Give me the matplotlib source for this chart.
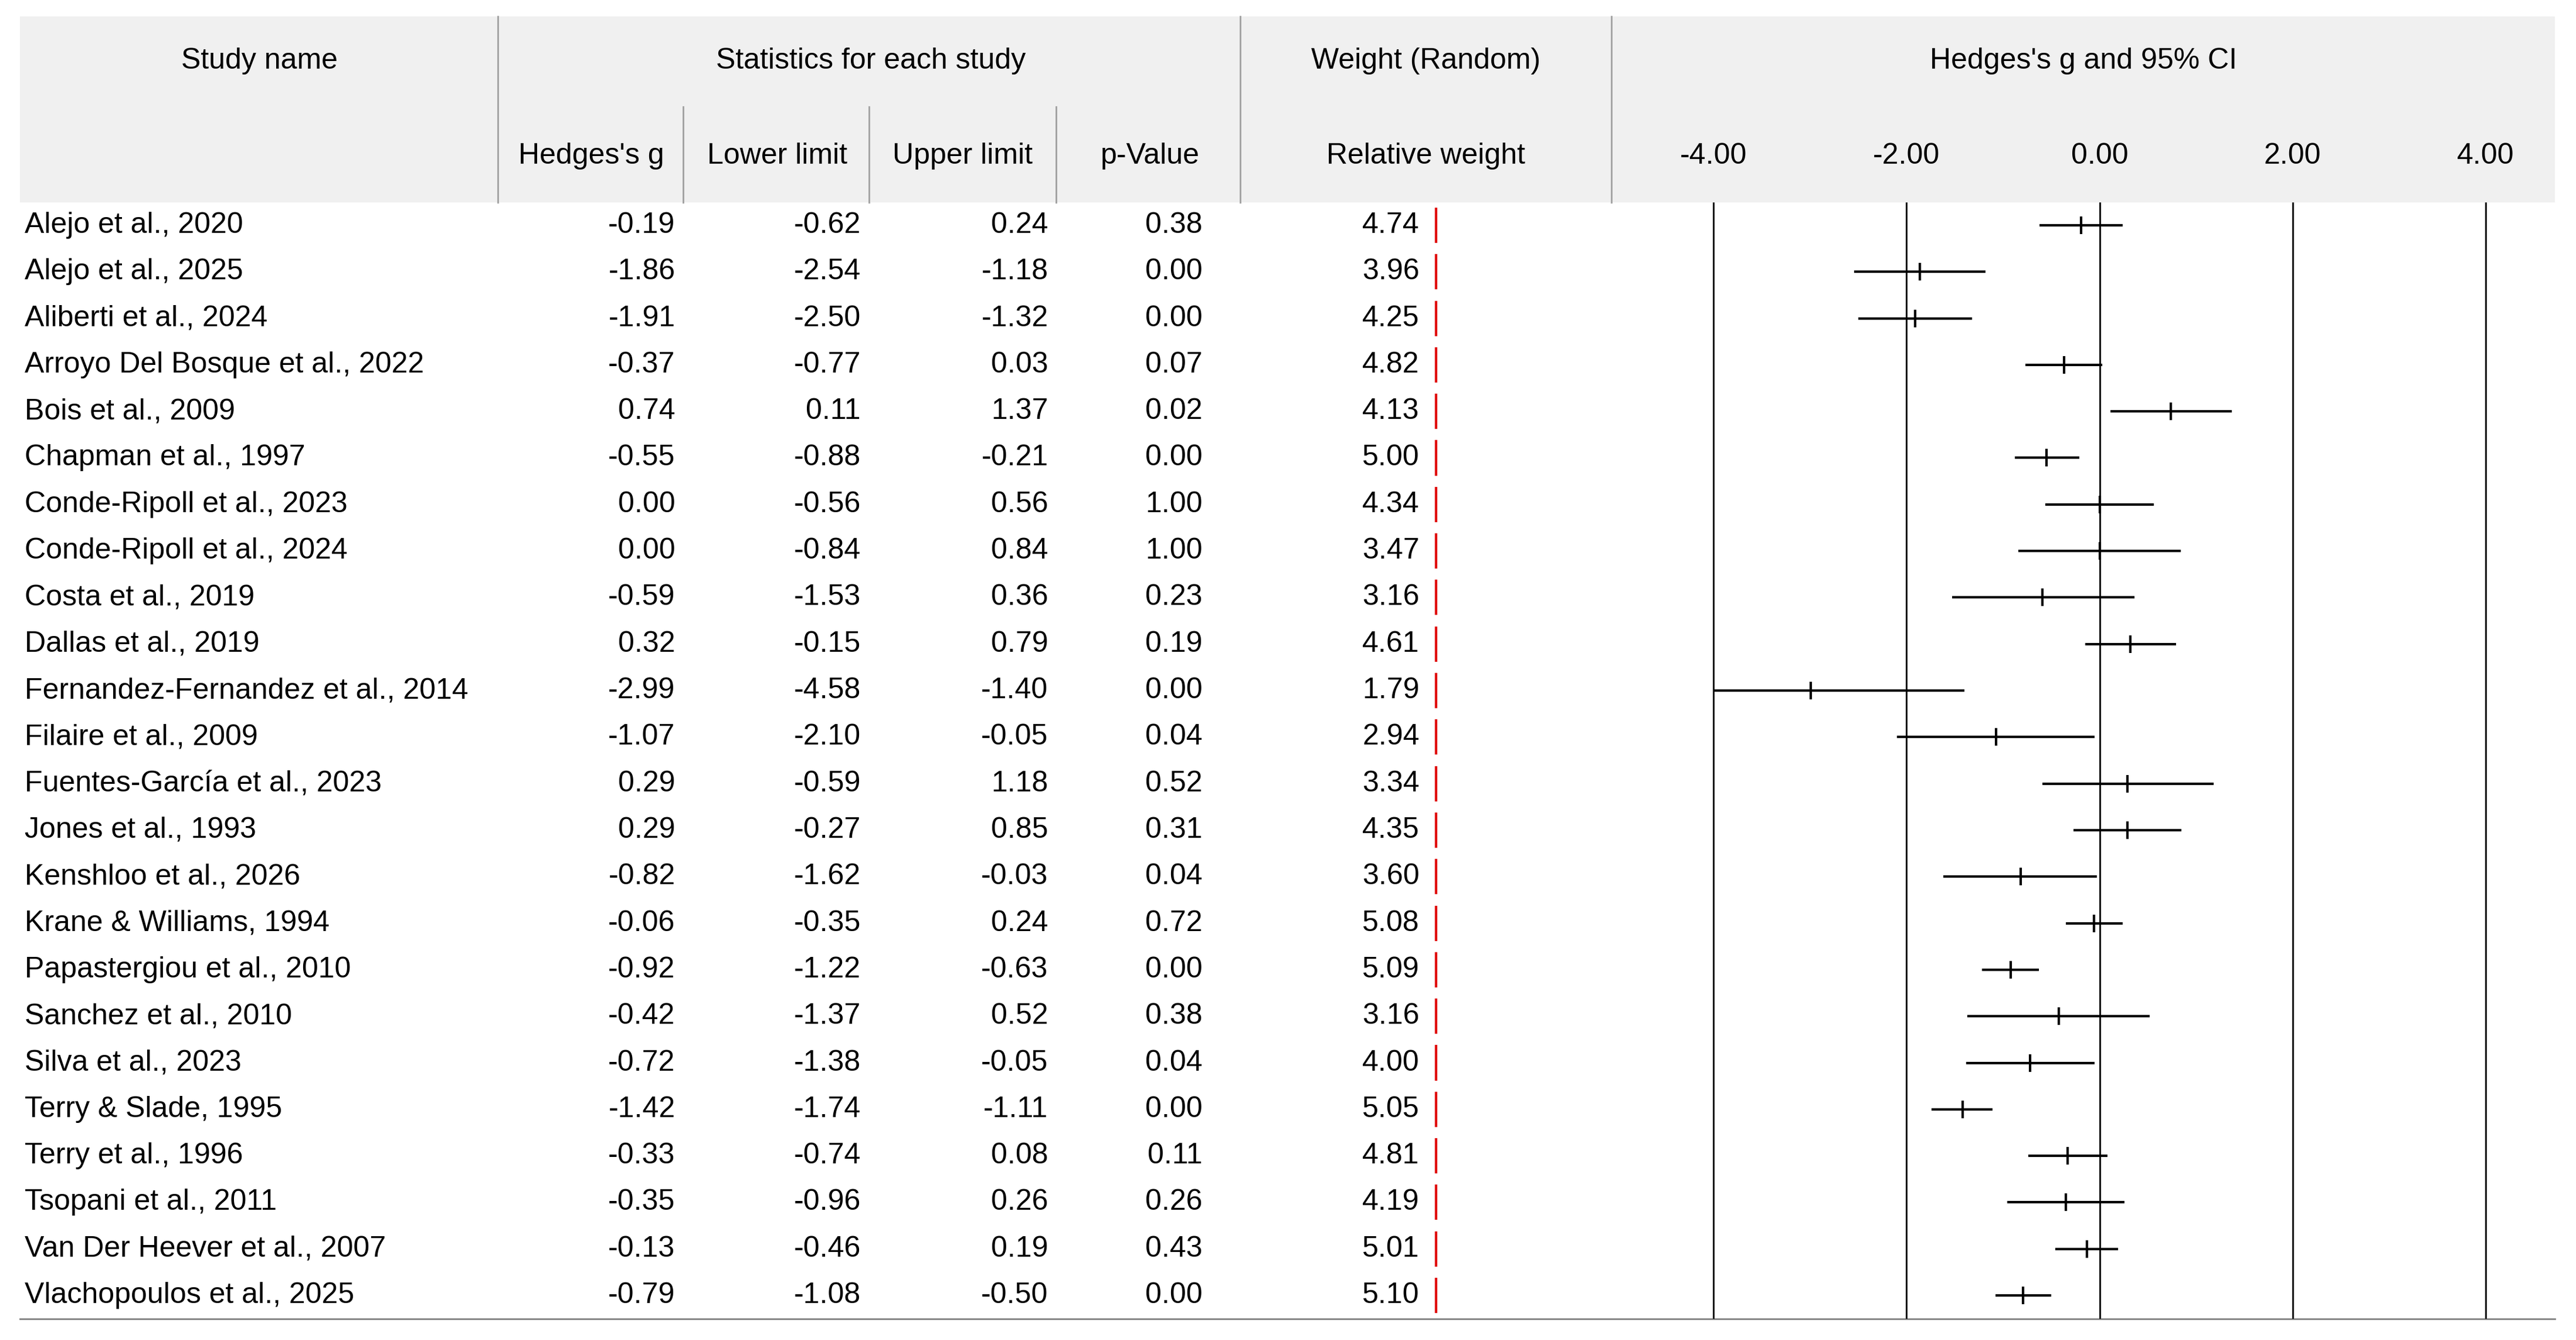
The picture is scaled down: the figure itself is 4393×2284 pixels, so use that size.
import matplotlib
matplotlib.use("Agg")
import matplotlib.pyplot as plt

studies = ["Alejo et al., 2020","Alejo et al., 2025","Aliberti et al., 2024","Arroyo Del Bosque et al., 2022",
"Bois et al., 2009","Chapman et al., 1997","Conde-Ripoll et al., 2023","Conde-Ripoll et al., 2024",
"Costa et al., 2019","Dallas et al., 2019","Fernandez-Fernandez et al., 2014","Filaire et al., 2009",
"Fuentes-García et al., 2023","Jones et al., 1993","Kenshloo et al., 2026","Krane & Williams, 1994",
"Papastergiou et al., 2010","Sanchez et al., 2010","Silva et al., 2023","Terry & Slade, 1995",
"Terry et al., 1996","Tsopani et al., 2011","Van Der Heever et al., 2007","Vlachopoulos et al., 2025"]
g = [-0.19,-1.86,-1.91,-0.37,0.74,-0.55,0.00,0.00,-0.59,0.32,-2.99,-1.07,0.29,0.29,-0.82,-0.06,-0.92,-0.42,-0.72,-1.42,-0.33,-0.35,-0.13,-0.79]
lower = [-0.62,-2.54,-2.50,-0.77,0.11,-0.88,-0.56,-0.84,-1.53,-0.15,-4.58,-2.10,-0.59,-0.27,-1.62,-0.35,-1.22,-1.37,-1.38,-1.74,-0.74,-0.96,-0.46,-1.08]
upper = [0.24,-1.18,-1.32,0.03,1.37,-0.21,0.56,0.84,0.36,0.79,-1.40,-0.05,1.18,0.85,-0.03,0.24,-0.63,0.52,-0.05,-1.11,0.08,0.26,0.19,-0.50]
pval = [0.38,0.00,0.00,0.07,0.02,0.00,1.00,1.00,0.23,0.19,0.00,0.04,0.52,0.31,0.04,0.72,0.00,0.38,0.04,0.00,0.11,0.26,0.43,0.00]
weight = [4.74,3.96,4.25,4.82,4.13,5.00,4.34,3.47,3.16,4.61,1.79,2.94,3.34,4.35,3.60,5.08,5.09,3.16,4.00,5.05,4.81,4.19,5.01,5.10]
ticks = [-4, -2, 0, 2, 4]

W, H = 1568.0, 815.0
plt.rcParams['font.family'] = ['Liberation Sans', 'DejaVu Sans']
fig = plt.figure(figsize=(43.93, 22.84), dpi=100)
ax = fig.add_axes([0, 0, 1, 1])
ax.set_xlim(0, W); ax.set_ylim(H, 0); ax.axis('off')
fs = 36
# header
ax.add_patch(plt.Rectangle((12, 10), 1543, 113, color='#F0F0F0', lw=0, zorder=0))
for x in [303, 755, 981]:
    ax.plot([x, x], [10, 123], color='#A0A0A0', lw=2)
for x in [416, 529, 643]:
    ax.plot([x, x], [65, 123], color='#A0A0A0', lw=2)
ax.plot([12, 1555], [802, 802], color='#808080', lw=2)
ax.text(158, 37, "Study name", ha='center', va='center', fontsize=fs)
ax.text(530, 37, "Statistics for each study", ha='center', va='center', fontsize=fs)
ax.text(868, 37, "Weight (Random)", ha='center', va='center', fontsize=fs)
ax.text(1268, 37, "Hedges's g and 95% CI", ha='center', va='center', fontsize=fs)
for x, t in [(360, "Hedges's g"), (473, "Lower limit"), (586, "Upper limit"), (700, "p-Value"), (868, "Relative weight")]:
    ax.text(x, 95, t, ha='center', va='center', fontsize=fs)
for t in ticks:
    ax.text(1278 + 58.75 * t, 95, f"{t:.2f}", ha='center', va='center', fontsize=fs)

y0, dy = 137, 28.3
for i in range(len(studies)):
    y = y0 + dy * i
    ax.text(15, y, studies[i], ha='left', va='center', fontsize=fs)
    for x, v in [(411, g[i]), (524, lower[i]), (638, upper[i]), (732, pval[i]), (864, weight[i])]:
        ax.text(x, y, f"{v:.2f}", ha='right', va='center', fontsize=fs)
    ax.plot([874, 874], [y - 10, y + 10], color='#E00000', lw=3)

# forest axes
fx0, fx1, fy0, fy1 = 981, 1555, 123, 802
fax = fig.add_axes([fx0 / W, 1 - fy1 / H, (fx1 - fx0) / W, (fy1 - fy0) / H])
fax.set_xlim((fx0 - 1278) / 58.75, (fx1 - 1278) / 58.75)
fax.set_ylim((fy1 - y0) / dy, (fy0 - y0) / dy)
fax.axis('off')
for t in ticks:
    fax.axvline(t, color='black', lw=2)
idx = list(range(len(studies)))
hl = fax.hlines(idx, lower, upper, color='black', lw=3)
clip = plt.Rectangle((-4, -1), 8.7, 30, transform=fax.transData)
hl.set_clip_path(clip)
fax.plot(g, idx, linestyle='none', marker='|', markersize=22, mew=3, color='black')

fig.savefig("out.png", dpi=100, facecolor='white')
